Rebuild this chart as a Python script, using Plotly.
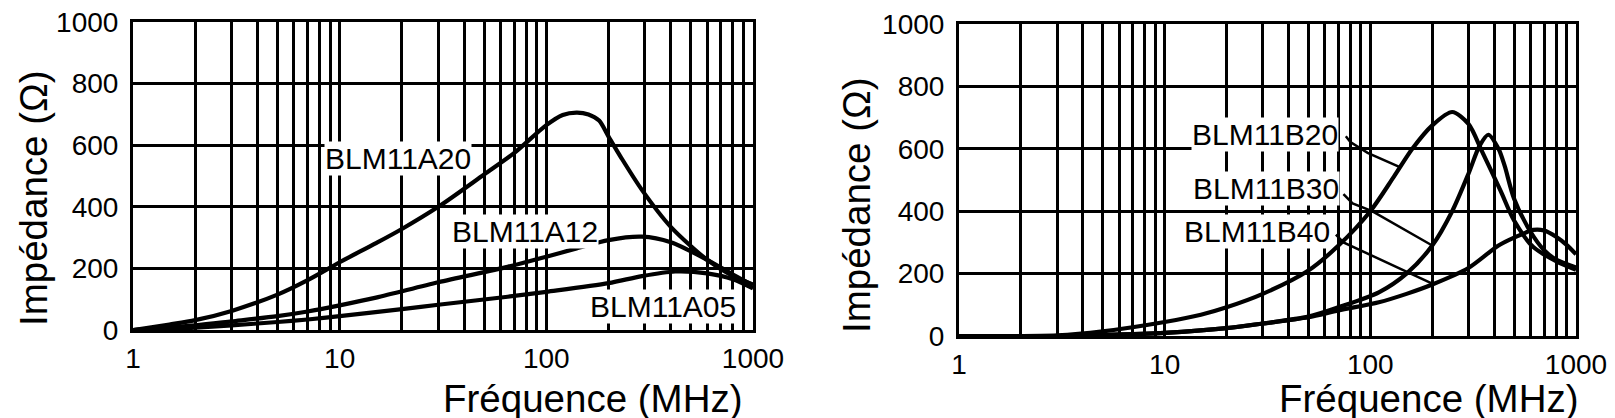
import numpy as np
import plotly.graph_objects as go

# ---------------------- Data ----------------------

# left panel: BLM11A series
freq_a20 = [1, 1.5, 2, 3, 5, 7, 10, 15, 20, 30, 50, 70, 100, 120, 140, 160, 180, 200, 230, 290, 400, 600, 800, 1000]
imp_a20 = [0, 18, 32, 62, 115, 162, 220, 282, 328, 400, 505, 575, 665, 698, 706, 700, 680, 628, 560, 455, 335, 228, 175, 148]

freq_a12 = [1, 2, 3, 5, 7, 10, 15, 30, 65, 100, 140, 200, 290, 400, 600, 800, 1000]
imp_a12 = [0, 15, 28, 45, 60, 80, 105, 155, 205, 238, 265, 292, 303, 285, 228, 180, 145]

freq_a05 = [1, 2, 3, 5, 7, 10, 20, 30, 65, 100, 200, 290, 420, 600, 800, 1000]
imp_a05 = [0, 8, 15, 26, 34, 45, 68, 82, 108, 124, 152, 175, 190, 184, 165, 135]

# right panel: BLM11B series
freq_b20 = [1, 3, 5, 10, 15, 20, 30, 50, 70, 100, 130, 160, 200, 250, 300, 350, 430, 500, 620, 800, 1000]
imp_b20 = [0, 2, 15, 45, 68, 92, 135, 210, 290, 400, 510, 600, 675, 718, 680, 590, 465, 370, 285, 240, 212]

freq_b30 = [1, 3, 5, 10, 20, 30, 50, 70, 110, 150, 200, 250, 300, 340, 375, 420, 450, 500, 600, 700, 800, 1000]
imp_b30 = [0, 0, 3, 10, 25, 40, 62, 92, 140, 200, 290, 400, 520, 610, 645, 600, 545, 440, 335, 275, 245, 220]

freq_b40 = [1, 3, 5, 10, 20, 30, 50, 70, 110, 150, 200, 300, 420, 500, 620, 700, 800, 900, 1000]
imp_b40 = [0, 0, 3, 10, 25, 40, 60, 82, 108, 135, 165, 218, 290, 315, 340, 338, 318, 292, 262]

# curve labels
labels_left = ["BLM11A20", "BLM11A12", "BLM11A05"]
label_left_freq = [19.1, 79, 366]
label_left_imp = [556, 321, 77]

labels_right = ["BLM11B20", "BLM11B30", "BLM11B40"]
label_right_freq = [30.8, 31.1, 28.1]
label_right_imp = [646, 472, 334]

# leader lines from the right-hand labels to their curves
leader_b20_freq = [76, 80, 97, 141]
leader_b20_imp = [640, 622, 587, 540]
leader_b30_freq = [74, 82, 102, 200]
leader_b30_imp = [455, 425, 400, 290]
leader_b40_freq = [68, 74, 200]
leader_b40_imp = [325, 300, 168]

x_title = "Fréquence (MHz)"
y_title = "Impédance (Ω)"
y_ticks = [0, 200, 400, 600, 800, 1000]

# ---------------------- Layout helpers ----------------------

W, H = 1615, 418
FONT = "Liberation Sans, Arial, sans-serif"

# every 1..9 step of each decade gets a grid line, only decades get a label
grid_vals = [m * 10 ** e for e in range(3) for m in range(1, 10)] + [1000]
grid_text = [str(v) if v in (1, 10, 100, 1000) else "" for v in grid_vals]


def px_x(p):
    return p / W


def px_y(p):
    return 1 - p / H


def x_axis(domain, anchor):
    return dict(
        type="log",
        range=[0, 3],
        domain=domain,
        anchor=anchor,
        tickvals=grid_vals,
        ticktext=grid_text,
        tickfont=dict(size=28, color="black", family=FONT),
        ticks="",
        ticklabelstandoff=1,
        ticklabeloverflow="allow",
        showgrid=True,
        gridcolor="black",
        gridwidth=2.5,
        showline=True,
        linecolor="black",
        linewidth=3,
        mirror=True,
        zeroline=False,
        automargin=False,
    )


def y_axis(domain, anchor):
    return dict(
        range=[0, 1000],
        domain=domain,
        anchor=anchor,
        tickvals=y_ticks,
        tickfont=dict(size=28, color="black", family=FONT),
        ticks="",
        ticklabelstandoff=6,
        ticklabeloverflow="allow",
        showgrid=True,
        gridcolor="black",
        gridwidth=2.5,
        showline=True,
        linecolor="black",
        linewidth=3,
        mirror=True,
        zeroline=False,
        automargin=False,
    )


def curve(f, z, xa, ya, width=4.2):
    return go.Scatter(
        x=f, y=z, xaxis=xa, yaxis=ya,
        mode="lines",
        line=dict(color="black", width=width, shape="spline", smoothing=0.8),
        showlegend=False,
        hoverinfo="skip",
    )


def leader(f, z):
    return go.Scatter(
        x=f, y=z, xaxis="x2", yaxis="y2",
        mode="lines",
        line=dict(color="black", width=2.5),
        showlegend=False,
        hoverinfo="skip",
    )


# ---------------------- Figure ----------------------

fig = go.Figure()

for f, z in [(freq_a20, imp_a20), (freq_a12, imp_a12), (freq_a05, imp_a05)]:
    fig.add_trace(curve(f, z, "x", "y"))

for f, z in [(freq_b20, imp_b20), (freq_b30, imp_b30), (freq_b40, imp_b40)]:
    fig.add_trace(curve(f, z, "x2", "y2"))

for f, z in [(leader_b20_freq, leader_b20_imp),
             (leader_b30_freq, leader_b30_imp),
             (leader_b40_freq, leader_b40_imp)]:
    fig.add_trace(leader(f, z))

label_font = dict(size=30, color="black", family=FONT)
annotations = []
for txt, f, z in zip(labels_left, label_left_freq, label_left_imp):
    annotations.append(dict(
        text=txt, x=np.log10(f), y=z, xref="x", yref="y",
        showarrow=False, bgcolor="white", borderpad=0, font=label_font,
    ))
for txt, f, z in zip(labels_right, label_right_freq, label_right_imp):
    annotations.append(dict(
        text=txt, x=np.log10(f), y=z, xref="x2", yref="y2",
        showarrow=False, bgcolor="white", borderpad=0, font=label_font,
    ))

# axis titles as free text so they sit where the scan has them
title_font = dict(size=38.5, color="black", family=FONT)
annotations += [
    dict(text=x_title, x=px_x(737), y=px_y(390), xref="paper", yref="paper",
         xanchor="right", yanchor="middle", showarrow=False, font=title_font),
    dict(text=x_title, x=px_x(1573), y=px_y(390), xref="paper", yref="paper",
         xanchor="right", yanchor="middle", showarrow=False, font=title_font),
    dict(text=y_title, x=px_x(25), y=px_y(190), xref="paper", yref="paper",
         xanchor="center", yanchor="middle", textangle=-90, showarrow=False, font=title_font),
    dict(text=y_title, x=px_x(848), y=px_y(197), xref="paper", yref="paper",
         xanchor="center", yanchor="middle", textangle=-90, showarrow=False, font=title_font),
]

fig.update_layout(
    width=W,
    height=H,
    margin=dict(l=0, r=0, t=0, b=0),
    paper_bgcolor="white",
    plot_bgcolor="white",
    xaxis=x_axis([px_x(125), px_x(745)], "y"),
    yaxis=y_axis([px_y(322), px_y(14)], "x"),
    xaxis2=x_axis([px_x(951), px_x(1568)], "y2"),
    yaxis2=y_axis([px_y(328), px_y(16)], "x2"),
    annotations=annotations,
    font=dict(family=FONT, color="black"),
)

fig.write_html("out.html")
